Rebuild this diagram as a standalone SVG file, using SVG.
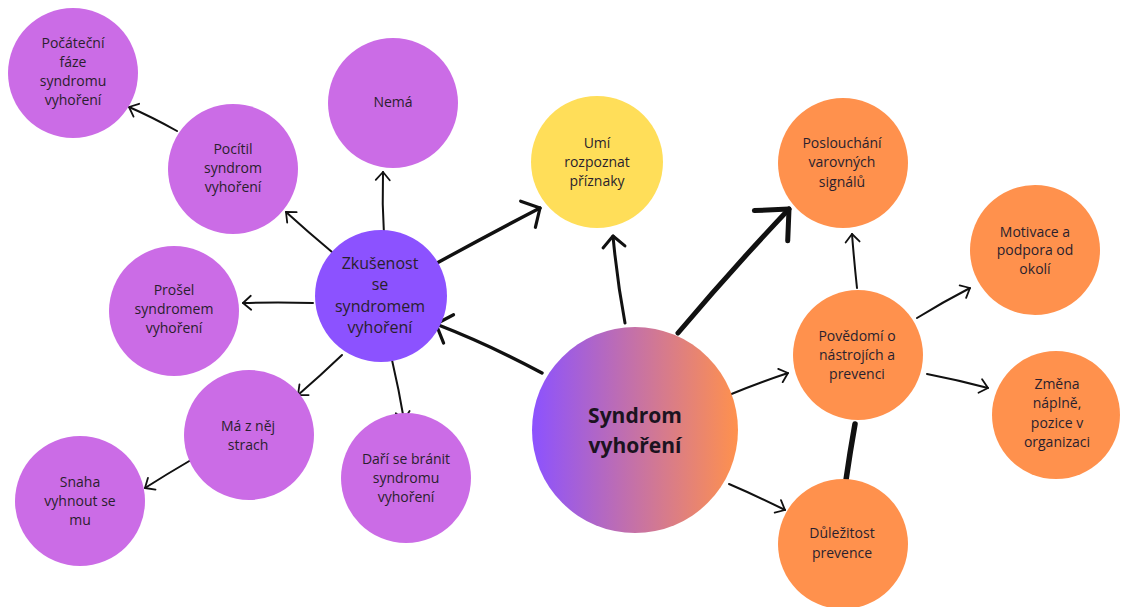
<svg xmlns="http://www.w3.org/2000/svg" width="1122" height="607" viewBox="0 0 1122 607">
  <defs>
    <linearGradient id="gradCore" x1="0" y1="0" x2="1" y2="0">
      <stop offset="0" stop-color="#8C52FF"/>
      <stop offset="1" stop-color="#FF914D"/>
    </linearGradient>
    <!-- open chevron arrowheads, several weights -->
    <marker id="arrowThin" markerUnits="userSpaceOnUse" viewBox="-14 -10 16 20" markerWidth="16" markerHeight="20" refX="0" refY="0" orient="auto" overflow="visible">
      <path d="M-8,-7 L0,0 L-8,7" fill="none" stroke="#111" stroke-width="1.8" stroke-linecap="round" stroke-linejoin="round"/>
    </marker>
    <marker id="arrowSmall" markerUnits="userSpaceOnUse" viewBox="-16 -14 20 28" markerWidth="20" markerHeight="28" refX="0" refY="0" orient="auto" overflow="visible">
      <path d="M-11,-11 L0,0 L-11,11" fill="none" stroke="#111" stroke-width="3" stroke-linecap="round" stroke-linejoin="round"/>
    </marker>
    <marker id="arrowMid" markerUnits="userSpaceOnUse" viewBox="-20 -18 24 36" markerWidth="24" markerHeight="36" refX="0" refY="0" orient="auto" overflow="visible">
      <path d="M-14,-15 L0,0 L-13,15" fill="none" stroke="#111" stroke-width="3.2" stroke-linecap="round" stroke-linejoin="round"/>
    </marker>
    <marker id="arrowBig" markerUnits="userSpaceOnUse" viewBox="-30 -28 34 56" markerWidth="34" markerHeight="56" refX="0" refY="0" orient="auto" overflow="visible">
      <path d="M-25,-24 L0,0 L-24,21" fill="none" stroke="#111" stroke-width="5" stroke-linecap="round" stroke-linejoin="round"/>
    </marker>
    <style>
      .purple { fill: #CB6CE6; }
      .violet { fill: #8C52FF; }
      .yellow { fill: #FFDE59; }
      .orange { fill: #FF914D; }
      .label { font-family: "Open Sans", "Noto Sans", "Liberation Sans", sans-serif; font-size: 14px; fill: #2a1f2d; text-anchor: middle; }
      .label-lg { font-size: 16px; }
      .label-core { font-size: 21px; font-weight: bold; fill: #1b1320; }
      .edge { fill: none; stroke: #111; stroke-linecap: round; }
      .thin { stroke-width: 2; marker-end: url(#arrowThin); }
      .small { stroke-width: 3; marker-end: url(#arrowSmall); }
      .mid { stroke-width: 3.4; marker-end: url(#arrowMid); }
      .big { stroke-width: 5; marker-end: url(#arrowBig); }
      .bar { stroke-width: 5.5; }
    </style>
  </defs>

  <rect width="1122" height="607" fill="#ffffff"/>

  <!-- connectors -->
  <g id="connectors">
    <path class="edge thin" d="M177,131 Q152,117 129,107"/>
    <path class="edge thin" d="M332,252 Q308,232 286,212"/>
    <path class="edge thin" d="M384,235 Q382,204 383,172"/>
    <path class="edge thin" d="M313,303 Q278,302 243,303"/>
    <path class="edge thin" d="M342,355 Q320,376 298,395"/>
    <path class="edge thin" d="M392,360 Q399,390 404,420"/>
    <path class="edge thin" d="M191,460 Q167,474 145,488"/>
    <path class="edge mid" d="M437,263 Q490,234 540,208"/>
    <path class="edge mid" d="M542,373 Q490,345 436,324"/>
    <path class="edge small" d="M625,323 Q617,280 613,236"/>
    <path class="edge big" d="M678,333 Q733,268 789,209"/>
    <path class="edge thin" d="M857,288 Q854,260 852,234"/>
    <path class="edge thin" d="M917,318 Q943,302 970,288"/>
    <path class="edge thin" d="M729,395 Q758,383 788,373"/>
    <path class="edge thin" d="M927,374 Q958,380 988,388"/>
    <path class="edge bar" d="M855,424 Q850,452 846,480"/>
    <path class="edge thin" d="M729,484 Q757,496 785,510"/>
  </g>

  <g id="node-pocatecni-faze">
    <circle class="purple" cx="73" cy="73" r="65"/>
    <text class="label" x="73" y="48">Počáteční</text>
    <text class="label" x="73" y="67">fáze</text>
    <text class="label" x="73" y="86">syndromu</text>
    <text class="label" x="73" y="105">vyhoření</text>
  </g>

  <g id="node-pocitil">
    <circle class="purple" cx="233" cy="169" r="65"/>
    <text class="label" x="233" y="154">Pocítil</text>
    <text class="label" x="233" y="173">syndrom</text>
    <text class="label" x="233" y="192">vyhoření</text>
  </g>

  <g id="node-nema">
    <circle class="purple" cx="393" cy="103" r="65"/>
    <text class="label" x="393" y="107">Nemá</text>
  </g>

  <g id="node-prosel">
    <circle class="purple" cx="174" cy="311" r="65"/>
    <text class="label" x="174" y="295">Prošel</text>
    <text class="label" x="174" y="314">syndromem</text>
    <text class="label" x="174" y="333">vyhoření</text>
  </g>

  <g id="node-zkusenost">
    <circle class="violet" cx="381" cy="296" r="66"/>
    <text class="label label-lg" x="380" y="268.5">Zkušenost</text>
    <text class="label label-lg" x="380" y="290">se</text>
    <text class="label label-lg" x="380" y="311.5">syndromem</text>
    <text class="label label-lg" x="380" y="333">vyhoření</text>
  </g>

  <g id="node-ma-strach">
    <circle class="purple" cx="249" cy="435" r="65"/>
    <text class="label" x="248" y="431">Má z něj</text>
    <text class="label" x="248" y="450">strach</text>
  </g>

  <g id="node-snaha">
    <circle class="purple" cx="80" cy="501" r="65"/>
    <text class="label" x="80" y="487">Snaha</text>
    <text class="label" x="80" y="506">vyhnout se</text>
    <text class="label" x="80" y="525">mu</text>
  </g>

  <g id="node-dari-se">
    <circle class="purple" cx="406" cy="478" r="65"/>
    <text class="label" x="406" y="464">Daří se bránit</text>
    <text class="label" x="406" y="483">syndromu</text>
    <text class="label" x="406" y="502">vyhoření</text>
  </g>

  <g id="node-umi">
    <circle class="yellow" cx="597" cy="162" r="66"/>
    <text class="label" x="597" y="148">Umí</text>
    <text class="label" x="597" y="167">rozpoznat</text>
    <text class="label" x="597" y="186">příznaky</text>
  </g>

  <g id="node-syndrom">
    <circle fill="url(#gradCore)" cx="635" cy="430" r="103"/>
    <text class="label label-core" x="635" y="423">Syndrom</text>
    <text class="label label-core" x="635" y="453">vyhoření</text>
  </g>

  <g id="node-posluchani">
    <circle class="orange" cx="843" cy="163" r="65"/>
    <text class="label" x="842" y="148">Poslouchání</text>
    <text class="label" x="842" y="167">varovných</text>
    <text class="label" x="842" y="187">signálů</text>
  </g>

  <g id="node-motivace">
    <circle class="orange" cx="1035" cy="250" r="65"/>
    <text class="label" x="1035" y="237">Motivace a</text>
    <text class="label" x="1035" y="255">podpora od</text>
    <text class="label" x="1035" y="274">okolí</text>
  </g>

  <g id="node-povedomi">
    <circle class="orange" cx="858" cy="355" r="65"/>
    <text class="label" x="857" y="341">Povědomí o</text>
    <text class="label" x="857" y="360">nástrojích a</text>
    <text class="label" x="857" y="379">prevenci</text>
  </g>

  <g id="node-zmena">
    <circle class="orange" cx="1056" cy="415" r="64"/>
    <text class="label" x="1057" y="389">Změna</text>
    <text class="label" x="1057" y="408">náplně,</text>
    <text class="label" x="1057" y="428">pozice v</text>
    <text class="label" x="1057" y="447">organizaci</text>
  </g>

  <g id="node-dulezitost">
    <circle class="orange" cx="843" cy="544" r="65"/>
    <text class="label" x="842" y="538">Důležitost</text>
    <text class="label" x="842" y="558">prevence</text>
  </g>
</svg>
